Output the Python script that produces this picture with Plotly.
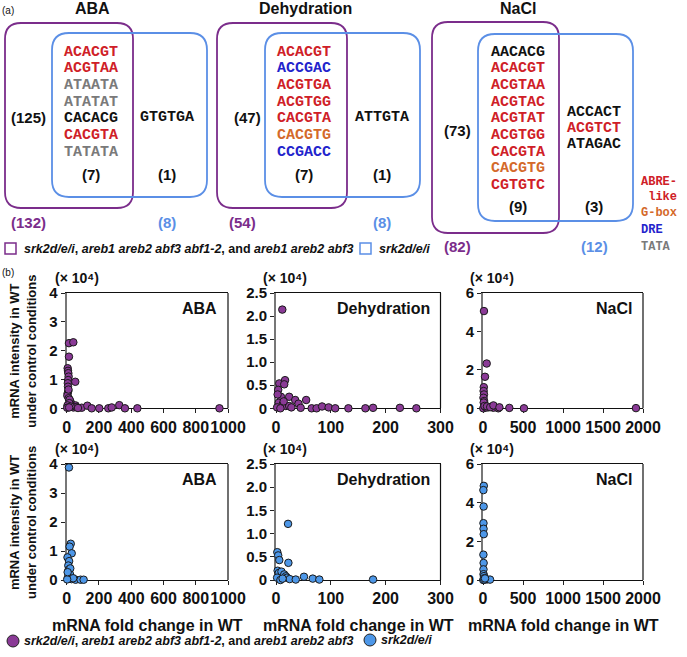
import plotly.graph_objects as go

# ---------------- DATA ----------------
conditions = ["ABA", "Dehydration", "NaCl"]

# (a) Venn: motifs in the overlap / srk2d/e/i-only regions, with motif class
aba_common = ["ACACGT", "ACGTAA", "ATAATA", "ATATAT", "CACACG", "CACGTA", "TATATA"]
aba_common_cls = ["ABRE", "ABRE", "TATA", "TATA", "none", "ABRE", "TATA"]
aba_only = ["GTGTGA"]
aba_only_cls = ["none"]
dehy_common = ["ACACGT", "ACCGAC", "ACGTGA", "ACGTGG", "CACGTA", "CACGTG", "CCGACC"]
dehy_common_cls = ["ABRE", "DRE", "ABRE", "ABRE", "ABRE", "GBOX", "DRE"]
dehy_only = ["ATTGTA"]
dehy_only_cls = ["none"]
nacl_common = ["AACACG", "ACACGT", "ACGTAA", "ACGTAC", "ACGTAT", "ACGTGG", "CACGTA", "CACGTG", "CGTGTC"]
nacl_common_cls = ["none", "ABRE", "ABRE", "ABRE", "ABRE", "ABRE", "ABRE", "GBOX", "ABRE"]
nacl_only = ["ACCACT", "ACGTCT", "ATAGAC"]
nacl_only_cls = ["none", "ABRE", "none"]

purple_only_counts = [125, 47, 73]
common_counts = [7, 7, 9]
blue_only_counts = [1, 1, 3]
purple_totals = [132, 54, 82]
blue_totals = [8, 8, 12]

motif_legend = ["ABRE-", "&nbsp;like", "G-box", "DRE", "TATA"]
motif_legend_cls = ["ABRE", "ABRE", "GBOX", "DRE", "TATA"]

# (b) scatter: mRNA fold change in WT vs mRNA intensity (x 10^4)
aba_fc = [14, 41, 14, 6, 8, 10, 12, 9, 7, 53, 8, 10, 6, 23, 29, 55, 93, 128, 155, 202,
          258, 279, 326, 361, 438, 947, 4, 12, 18, 20, 35, 42, 60, 70, 16, 5, 3, 25, 11, 15]
aba_int = [2.26, 2.29, 1.79, 1.39, 1.30, 1.22, 1.10, 0.98, 0.87, 0.92, 0.75, 0.60, 0.52, 0.24,
           0.15, 0.10, 0.02, 0.09, 0.0, 0.0, 0.0, 0.03, 0.11, 0.0, 0.0, 0.0, 0.44, 0.35, 0.30,
           0.08, 0.05, 0.03, 0.04, 0.01, 0.18, 0.10, 0.02, 0.06, 0.65, 0.03]
dehy_fc = [11.5, 6, 16.5, 15, 4, 9, 24, 35, 41, 55, 5, 12, 18, 24, 65, 74, 84, 96, 108, 132,
           163, 177, 226, 256, 2, 8, 28, 45, 14, 3]
dehy_int = [2.14, 0.54, 0.61, 0.52, 0.40, 0.25, 0.25, 0.18, 0.10, 0.18, 0.12, 0.08, 0.05, 0.05,
            0.0, 0.0, 0.04, 0.02, 0.0, 0.0, 0.0, 0.01, 0.01, 0.0, 0.02, 0.0, 0.02, 0.01, 0.15, 0.30]
nacl_fc = [12, 46, 25, 10, 8, 12, 6, 14, 20, 66, 129, 191, 329, 512, 1912, 4, 30, 40, 9, 18, 50, 90, 130, 205]
nacl_int = [5.06, 2.33, 1.64, 1.10, 0.90, 0.72, 0.55, 0.38, 0.20, 0.05, 0.03, 0.0, 0.02, 0.0,
            0.01, 0.0, 0.08, 0.04, 0.30, 0.12, 0.10, 0.06, 0.15, 0.05]

aba_srk_fc = [14, 25, 18, 31, 5, 15, 10, 12, 20, 8, 14, 30, 55, 86, 105, 40, 3, 22, 6]
aba_srk_int = [3.88, 1.25, 1.15, 0.92, 0.78, 0.65, 0.50, 0.35, 0.20, 0.10, 0.05, 0.03, 0.01,
               0.01, 0.01, 0.06, 0.02, 0.40, 0.27]
dehy_srk_fc = [22, 2.4, 4, 6, 22.6, 3, 5, 10, 15, 18, 20, 25, 36, 51, 67, 79, 177, 2, 8, 12]
dehy_srk_int = [1.21, 0.60, 0.53, 0.43, 0.37, 0.20, 0.15, 0.18, 0.12, 0.08, 0.05, 0.02, 0.01,
                0.07, 0.03, 0.01, 0.01, 0.05, 0.0, 0.03]
nacl_srk_fc = [10, 5, 8, 6, 7, 9, 5, 8, 6, 7, 12, 20, 30, 50, 88, 3, 15, 25]
nacl_srk_int = [4.87, 4.65, 3.80, 2.94, 2.65, 2.37, 1.31, 0.88, 0.55, 0.30, 0.20, 0.10, 0.05,
                0.03, 0.02, 0.0, 0.02, 0.08]

x_ticks = [[0, 200, 400, 600, 800, 1000], [0, 100, 200, 300], [0, 500, 1000, 1500, 2000]]
x_ticktext = [["0", "200", "400", "600", "800", "1000"], ["0", "100", "200", "300"],
              ["0", "500", "1000", "1500", "2000"]]
x_ranges = [[0, 1000], [0, 300], [0, 2000]]
y_ticks = [[0, 1, 2, 3, 4], [0, 0.5, 1.0, 1.5, 2.0, 2.5], [0, 2, 4, 6]]
y_ticktext = [["0", "1", "2", "3", "4"], ["0", "0.5", "1.0", "1.5", "2.0", "2.5"], ["0", "2", "4", "6"]]
y_ranges = [[0, 4], [0, 2.5], [0, 6]]
scale_note = "(\u00d7 10\u2074)"

legend_purple = "<i>srk2d/e/i</i>, <i>areb1 areb2 abf3 abf1-2</i>, and <i>areb1 areb2 abf3</i>"
legend_blue = "<i>srk2d/e/i</i>"

# ---------------- STYLE / LAYOUT ----------------
W, H = 687, 657
PURPLE = "#7b2d8b"
PURPLE_FILL = "#8a3a96"
BLUE = "#5b8fe6"
BLUE_FILL = "#4d97e8"
CLS_COLOR = {"ABRE": "#cf2027", "GBOX": "#d4692a", "DRE": "#2323cc", "TATA": "#7a7a7a", "none": "#111111"}
SANS = "Liberation Sans, Arial, sans-serif"
MONO = "Liberation Mono, Courier New, monospace"


def fx(x):
    return x / W


def fy(y):
    return 1 - y / H


annotations = []
shapes = []


def text(x, y, s, size, color="#111", family=SANS, weight="bold", xanchor="center", angle=0):
    annotations.append(dict(x=fx(x), y=fy(y), xref="paper", yref="paper", text=s, showarrow=False,
                            xanchor=xanchor, yanchor="middle", textangle=angle,
                            font=dict(family=family, size=size, color=color, weight=weight)))


def rrect(x0, y0, x1, y1, r, color, width=1.8):
    pts = [("M", x0 + r, y0), ("L", x1 - r, y0), ("Q", x1, y0, x1, y0 + r), ("L", x1, y1 - r),
           ("Q", x1, y1, x1 - r, y1), ("L", x0 + r, y1), ("Q", x0, y1, x0, y1 - r),
           ("L", x0, y0 + r), ("Q", x0, y0, x0 + r, y0)]
    p = ""
    for seg in pts:
        c = seg[0]
        coords = seg[1:]
        parts = []
        for i in range(0, len(coords), 2):
            parts.append(f"{fx(coords[i]):.5f},{fy(coords[i + 1]):.5f}")
        p += c + " " + " ".join(parts) + " "
    p += "Z"
    shapes.append(dict(type="path", path=p, xref="paper", yref="paper",
                       line=dict(color=color, width=width), fillcolor="rgba(0,0,0,0)"))


# ---- (a) Venn diagrams ----
text(8, 10, "(a)", 10, weight="normal")
venn_title_x = [92, 305, 518]
purple_boxes = [(5, 23, 133, 208), (217, 23, 347, 208), (432, 22, 559, 233)]
blue_boxes = [(52, 33, 207, 197), (265, 33, 420, 197), (478, 34, 633, 221)]
common_lists = [(aba_common, aba_common_cls), (dehy_common, dehy_common_cls), (nacl_common, nacl_common_cls)]
only_lists = [(aba_only, aba_only_cls), (dehy_only, dehy_only_cls), (nacl_only, nacl_only_cls)]
common_x = [91, 304, 518]
only_x = [167, 382, 594]
only_y0 = [117, 117, 112]
purple_num_pos = [(28, 117), (247, 117), (457, 130)]
count_y = [175, 175, 207]
total_y = [222, 222, 247]
purple_total_x = [28, 242, 457]

for i in range(3):
    text(venn_title_x[i], 8, conditions[i], 16)
    rrect(*purple_boxes[i], 16, PURPLE)
    rrect(*blue_boxes[i], 17, BLUE)
    motifs, cls = common_lists[i]
    for k, (m, c) in enumerate(zip(motifs, cls)):
        text(common_x[i], 52 + 16.7 * k, m, 15, color=CLS_COLOR[c], family=MONO)
    motifs, cls = only_lists[i]
    for k, (m, c) in enumerate(zip(motifs, cls)):
        text(only_x[i], only_y0[i] + 16 * k, m, 15, color=CLS_COLOR[c], family=MONO)
    text(purple_num_pos[i][0], purple_num_pos[i][1], f"({purple_only_counts[i]})", 15)
    text(common_x[i], count_y[i], f"({common_counts[i]})", 15)
    text(only_x[i], count_y[i], f"({blue_only_counts[i]})", 15)
    text(purple_total_x[i], total_y[i], f"({purple_totals[i]})", 15, color=PURPLE)
    text(only_x[i], total_y[i], f"({blue_totals[i]})", 15, color=BLUE)

for k, (s, c) in enumerate(zip(motif_legend, motif_legend_cls)):
    text(639, [182, 197, 213, 230, 247][k], s, 12, color=CLS_COLOR[c], family=MONO, xanchor="left")

# (a) legend: open squares
shapes.append(dict(type="rect", xref="paper", yref="paper", x0=fx(5), x1=fx(16), y0=fy(254), y1=fy(243),
                   line=dict(color=PURPLE, width=1.5)))
text(22, 248.5, legend_purple, 12.5, xanchor="left")
shapes.append(dict(type="rect", xref="paper", yref="paper", x0=fx(360), x1=fx(371), y0=fy(254), y1=fy(243),
                   line=dict(color=BLUE, width=1.5)))
text(377, 248.5, legend_blue, 12.5, xanchor="left")

# ---- (b) scatter panels ----
text(8, 272, "(b)", 10, weight="normal")
cols = [(66.7, 228.0), (276.0, 440.5), (483.0, 643.0)]
rows = [(293.0, 408.3), (464.0, 580.0)]
series = [
    [(aba_fc, aba_int), (dehy_fc, dehy_int), (nacl_fc, nacl_int)],
    [(aba_srk_fc, aba_srk_int), (dehy_srk_fc, dehy_srk_int), (nacl_srk_fc, nacl_srk_int)],
]
fills = [PURPLE_FILL, BLUE_FILL]
names = ["srk2d/e/i, areb1 areb2 abf3 abf1-2, and areb1 areb2 abf3", "srk2d/e/i"]

fig = go.Figure()
layout_axes = {}
n = 0
for r in range(2):
    for c in range(3):
        n += 1
        xa = "x" if n == 1 else f"x{n}"
        ya = "y" if n == 1 else f"y{n}"
        xs, ys = series[r][c]
        fig.add_trace(go.Scatter(x=xs, y=ys, mode="markers", xaxis=xa, yaxis=ya, name=names[r],
                                 showlegend=False, cliponaxis=False,
                                 marker=dict(size=7.5, color=fills[r], line=dict(color="#1a1a1a", width=1))))
        x0, x1 = cols[c]
        ytop, ybot = rows[r]
        layout_axes["xaxis" if n == 1 else f"xaxis{n}"] = dict(
            domain=[fx(x0), fx(x1)], range=x_ranges[c], anchor=ya, automargin=False, tickangle=0,
            tickvals=x_ticks[c], ticktext=x_ticktext[c], ticks="outside", ticklen=4, tickwidth=1,
            tickcolor="#222", showline=True, linecolor="#111", linewidth=1.2, mirror=True,
            showgrid=False, zeroline=False, layer="below traces", fixedrange=True,
            tickfont=dict(family=SANS, size=16, color="#111", weight="bold"))
        layout_axes["yaxis" if n == 1 else f"yaxis{n}"] = dict(
            domain=[fy(ybot), fy(ytop)], range=y_ranges[c], anchor=xa, automargin=False,
            tickvals=y_ticks[c], ticktext=y_ticktext[c], ticks="outside", ticklen=4, tickwidth=1,
            tickcolor="#222", showline=True, linecolor="#777", linewidth=2, mirror=False,
            showgrid=False, zeroline=False, layer="below traces", fixedrange=True,
            tickfont=dict(family=SANS, size=15, color="#111", weight="bold"))
        # right frame edge
        shapes.append(dict(type="line", xref=f"{xa} domain", yref=f"{ya} domain", x0=1, x1=1, y0=0, y1=1,
                           line=dict(color="#111", width=1.2)))
        # panel label and scale note
        lab_x = [199, 383, 614][c]
        text(lab_x, ytop + 15, conditions[c], 16)
        text([77, 285, 492][c], ytop - 15, scale_note, 14)

for r in range(2):
    yc = (rows[r][0] + rows[r][1]) / 2 + 1
    text(23, yc, "mRNA intensity in WT<br>under control conditions", 13, angle=-90)
for c in range(3):
    text((cols[c][0] + cols[c][1]) / 2, 625, "mRNA fold change in WT", 16)

# (b) legend: filled circles
shapes.append(dict(type="circle", xref="paper", yref="paper", x0=fx(7), x1=fx(19), y0=fy(647), y1=fy(635),
                   fillcolor=PURPLE_FILL, line=dict(color="#222", width=1)))
text(22, 641, legend_purple, 12.5, xanchor="left")
shapes.append(dict(type="circle", xref="paper", yref="paper", x0=fx(364), x1=fx(376), y0=fy(646), y1=fy(634),
                   fillcolor=BLUE_FILL, line=dict(color="#222", width=1)))
text(379, 640, legend_blue, 12.5, xanchor="left")

fig.update_layout(width=W, height=H, margin=dict(l=0, r=0, t=0, b=0, pad=0), autosize=False,
                  paper_bgcolor="white", plot_bgcolor="white", showlegend=False,
                  annotations=annotations, shapes=shapes, **layout_axes)
fig.write_html("out.html", config={"displayModeBar": False},
               post_script="document.body.style.margin='0';document.body.style.overflow='hidden';")
